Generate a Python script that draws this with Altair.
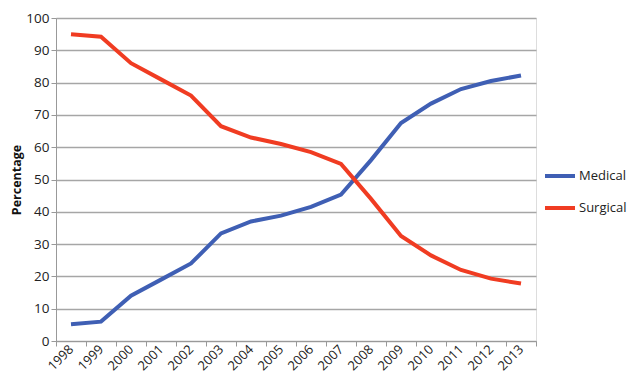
import altair as alt
import pandas as pd

years = [str(y) for y in range(1998, 2014)]
medical = [5.2, 6.0, 14.0, 19.0, 24.0, 33.3, 37.0, 38.8, 41.5, 45.3, 56.0, 67.5, 73.5, 78.0, 80.5, 82.2]
surgical = [95.0, 94.2, 86.0, 81.0, 76.0, 66.5, 63.0, 61.0, 58.5, 54.8, 44.0, 32.5, 26.5, 22.0, 19.3, 17.8]

df = pd.DataFrame({
    "Year": years * 2,
    "Value": medical + surgical,
    "Series": ["Medical"] * len(years) + ["Surgical"] * len(years),
})

FONT = "Open Sans"

chart = alt.Chart(df).mark_line(strokeWidth=4).encode(
    x=alt.X("Year:O", title=None, sort=years,
            scale=alt.Scale(paddingInner=0, paddingOuter=0),
            axis=alt.Axis(labelAngle=-45, tickBand="extent", labelFontSize=13,
                          labelFont=FONT, labelColor="#222", domainColor="#999",
                          tickColor="#999", tickSize=5, labelPadding=1,
                          labelAlign="right", labelBaseline="middle")),
    y=alt.Y("Value:Q", title="Percentage",
            scale=alt.Scale(domain=[0, 100]),
            axis=alt.Axis(values=list(range(0, 101, 10)), labelFontSize=13.5,
                          labelFont=FONT, labelColor="#222", grid=True,
                          gridColor="#a6a6a6", gridWidth=1.3, domainColor="#999",
                          tickColor="#999", tickSize=5, titleFont=FONT,
                          titleFontSize=12.5, titleFontWeight="bold",
                          titleColor="#111", titlePadding=2)),
    color=alt.Color("Series:N", title=None,
                    scale=alt.Scale(domain=["Medical", "Surgical"],
                                    range=["#3f5fb4", "#f03c22"]),
                    legend=alt.Legend(orient="none", legendX=487, legendY=141,
                                      symbolType="stroke", symbolSize=900,
                                      symbolStrokeWidth=4, labelFont=FONT,
                                      labelFontSize=13, labelColor="#222",
                                      rowPadding=7, labelOffset=2)),
).properties(
    width=480, height=323,
    autosize=alt.AutoSizeParams(type="none"),
    padding={"left": 48, "top": 10, "right": 96, "bottom": 38},
).configure_view(stroke=None).configure(background="white")

chart.save("out.html", embed_options={"renderer": "svg", "actions": False})
